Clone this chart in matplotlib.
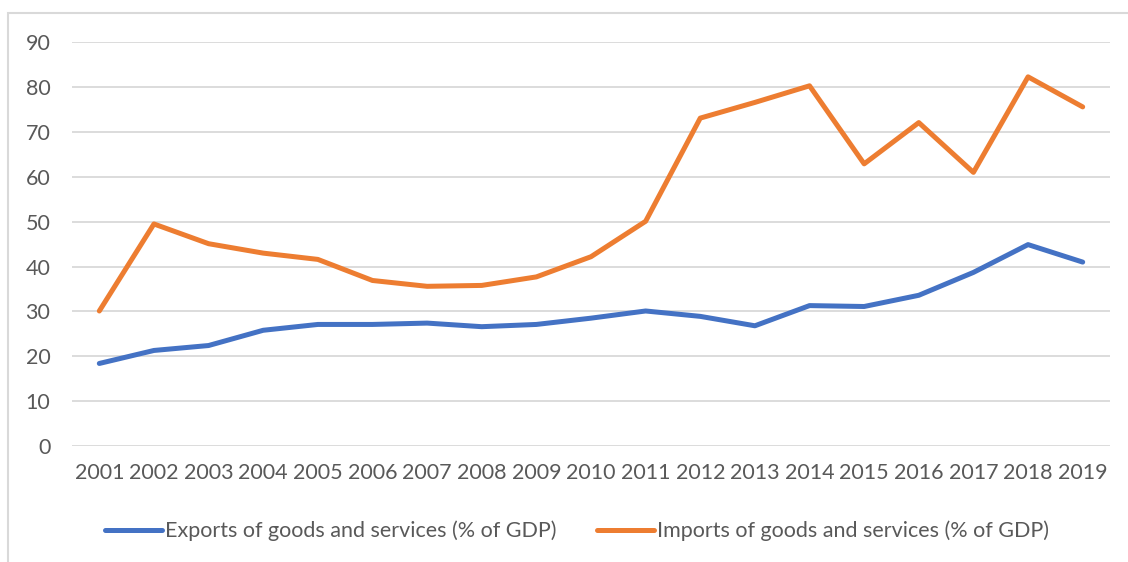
import matplotlib
matplotlib.use("Agg")
import matplotlib.pyplot as plt
from matplotlib.patches import Rectangle

years = [str(y) for y in range(2001, 2020)]
exports = [18.4, 21.3, 22.4, 25.8, 27.1, 27.1, 27.4, 26.6, 27.1, 28.5,
           30.1, 28.9, 26.8, 31.3, 31.1, 33.6, 38.7, 44.9, 41.0]
imports = [30.1, 49.5, 45.1, 43.0, 41.6, 36.9, 35.6, 35.8, 37.7, 42.2,
           50.1, 73.1, 76.6, 80.3, 62.9, 72.1, 61.0, 82.3, 75.6]
series_names = ["Exports of goods and services (% of GDP)",
                "Imports of goods and services (% of GDP)"]

plt.rcParams['font.family'] = ['Lato', 'DejaVu Sans']

W, H = 1128, 562
fig = plt.figure(figsize=(W / 100, H / 100), dpi=100)

# chart frame (cut off at right and bottom like the screenshot)
fig.patches.append(Rectangle((8 / W, -0.1), 2, 1.1 - 13 / H, transform=fig.transFigure,
                             fill=False, edgecolor="#D9D9D9", linewidth=1.5))

ax = fig.add_axes([72 / W, (H - 446) / H, (1110 - 72) / W, (446 - 42.3) / H])
x = list(range(len(years)))
ax.plot(x, exports, color="#4472C4", linewidth=3.6, solid_capstyle="round",
        solid_joinstyle="round", label=series_names[0])
ax.plot(x, imports, color="#ED7D31", linewidth=3.6, solid_capstyle="round",
        solid_joinstyle="round", label=series_names[1])

ax.set_xlim(-0.5, len(years) - 0.5)
ax.set_ylim(0, 90)
ax.set_yticks(range(0, 91, 10))
ax.set_xticks(x)
ax.set_xticklabels(years)
ax.grid(axis="y", color="#D9D9D9", linewidth=1.3)
ax.set_axisbelow(True)
for s in ax.spines.values():
    s.set_visible(False)
ax.tick_params(length=0, labelsize=15.5, colors="#595959")
ax.tick_params(axis="y", pad=15.5)
ax.tick_params(axis="x", pad=12)

fig.legend(loc="center", bbox_to_anchor=(577 / W, 1 - 531 / H), ncol=2, frameon=False,
           fontsize=15.5, handlelength=2.65, handletextpad=0.14, columnspacing=1.86,
           labelcolor="#595959")

fig.savefig("out.png", dpi=100)
